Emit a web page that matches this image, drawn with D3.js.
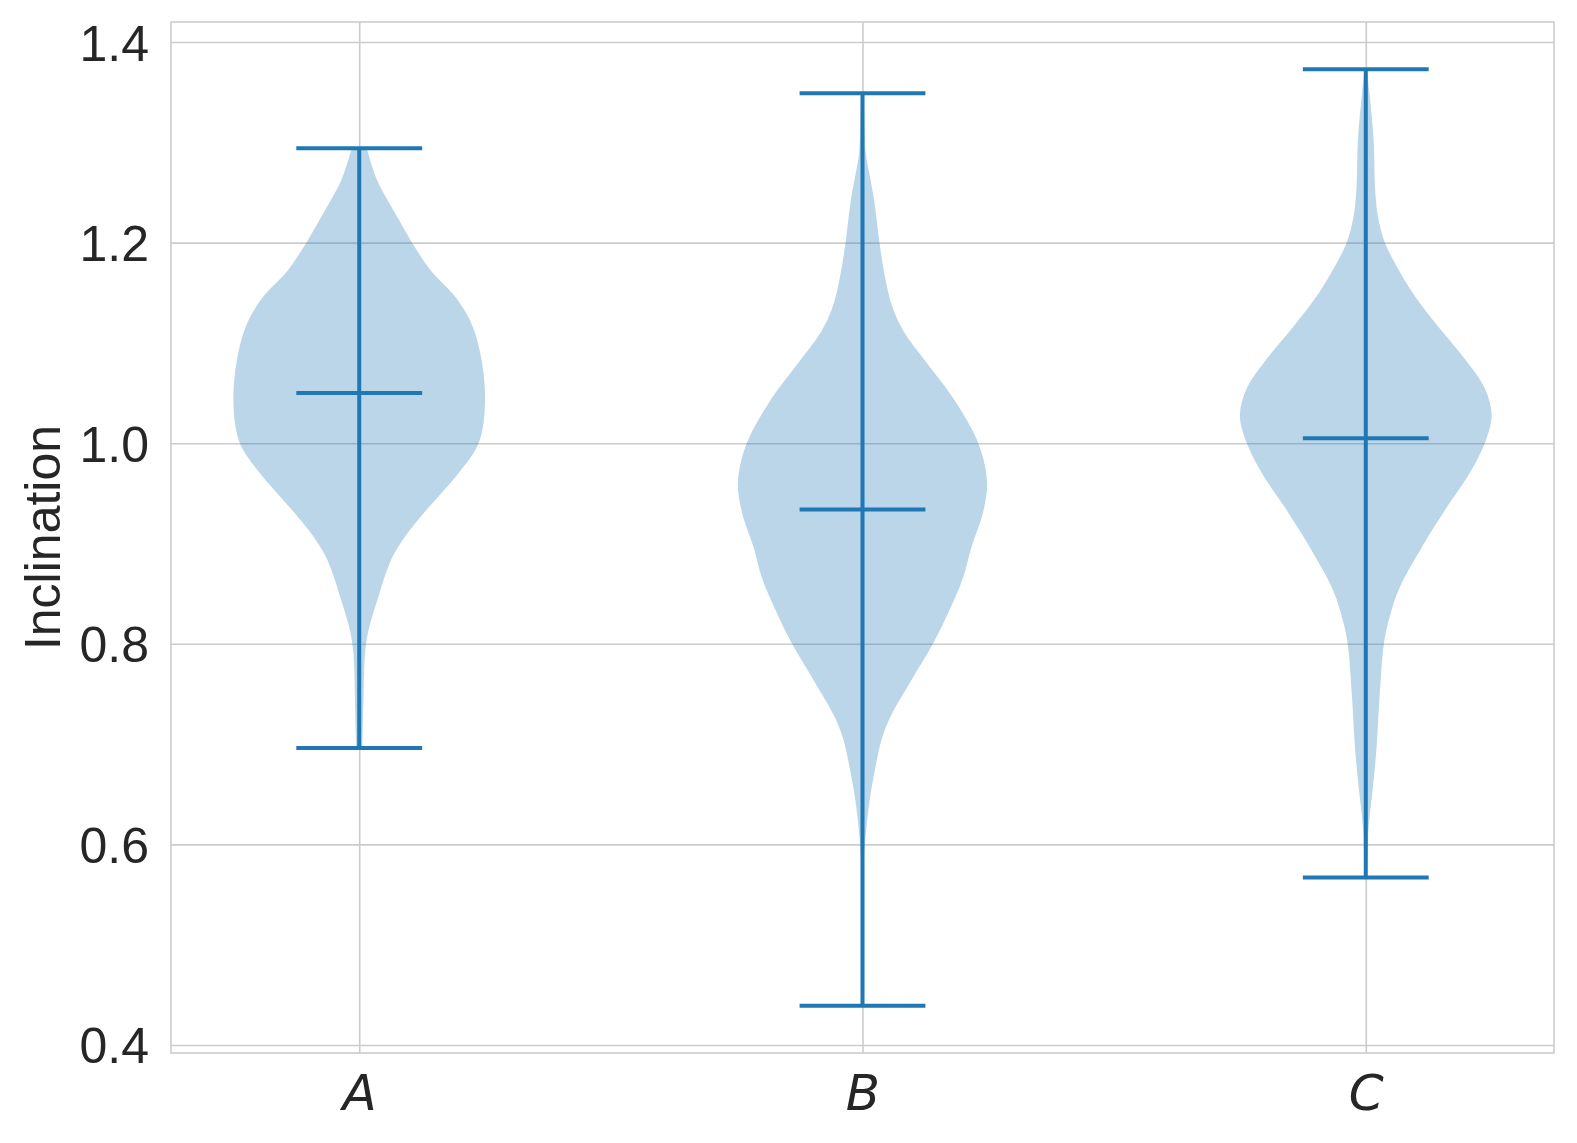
<!DOCTYPE html>
<html>
<head>
<meta charset="utf-8">
<script src="https://cdn.jsdelivr.net/npm/d3@7"></script>
<style>
  body { margin: 0; background: #fff; }
  text { font-family: "Liberation Sans", Arial, sans-serif; fill: #262626; }
</style>
</head>
<body>
<div id="chart"></div>
<script>
// chart data
var categories = ["A", "B", "C"]
var positions = [1, 2, 3]
var yTicks = [0.4, 0.6, 0.8, 1.0, 1.2, 1.4]
var mins = [0.696, 0.439, 0.567]
var maxs = [1.294, 1.349, 1.373]
var means = [1.050, 0.934, 1.005]

// kde profiles: [inclination, relative density]
var densityA = [
  [1.294, 0.06], [1.263, 0.14], [1.224, 0.31], [1.200, 0.42], [1.172, 0.57],
  [1.145, 0.77], [1.117, 0.90], [1.081, 0.975], [1.046, 1.0], [1.014, 0.98],
  [0.995, 0.93], [0.967, 0.77], [0.947, 0.63], [0.927, 0.49], [0.908, 0.37],
  [0.888, 0.27], [0.868, 0.205], [0.848, 0.155], [0.828, 0.105], [0.809, 0.066],
  [0.789, 0.045], [0.770, 0.038], [0.750, 0.035], [0.696, 0.024]
]
var densityB = [
  [1.349, 0.012], [1.290, 0.026], [1.272, 0.05], [1.242, 0.093], [1.200, 0.135],
  [1.165, 0.18], [1.135, 0.24], [1.111, 0.33], [1.081, 0.505], [1.045, 0.72],
  [1.000, 0.92], [0.962, 0.99], [0.932, 0.96], [0.896, 0.865], [0.866, 0.80],
  [0.836, 0.70], [0.800, 0.56], [0.764, 0.39], [0.728, 0.225], [0.705, 0.153],
  [0.675, 0.10], [0.645, 0.058], [0.609, 0.025], [0.585, 0.012], [0.439, 0.004]
]
var densityC = [
  [1.373, 0.008], [1.351, 0.028], [1.303, 0.062], [1.250, 0.076], [1.224, 0.10],
  [1.200, 0.152], [1.171, 0.27], [1.144, 0.405], [1.118, 0.565], [1.086, 0.775],
  [1.055, 0.945], [1.028, 1.0], [1.002, 0.952], [0.970, 0.825], [0.933, 0.627],
  [0.896, 0.444], [0.854, 0.262], [0.827, 0.19], [0.801, 0.145], [0.748, 0.11],
  [0.695, 0.085], [0.653, 0.053], [0.616, 0.022], [0.567, 0.008]
]
var densities = [densityA, densityB, densityC]

var width = 1577
    height = 1143
    margin = {top: 22, right: 23, bottom: 90, left: 171}

var svg = d3.select("#chart")
  .append("svg")
    .attr("width", width)
    .attr("height", height)

var x = d3.scaleLinear()
  .domain([0.626, 3.374])
  .range([margin.left, width - margin.right])

var y = d3.scaleLinear()
  .domain([0.392, 1.42])
  .range([height - margin.bottom, margin.top])

var blue = "#1f77b4"
    grid = "#cccccc"

// horizontal grid + y tick labels
var yAxis = svg.append("g")
  .attr("transform", "translate(" + margin.left + ",0)")
  .call(d3.axisLeft(y)
    .tickValues(yTicks)
    .tickFormat(d3.format(".1f"))
    .tickSize(-(width - margin.left - margin.right))
    .tickPadding(22))
yAxis.select(".domain").remove()
yAxis.selectAll("line").attr("stroke", grid).attr("stroke-width", 1.6)
yAxis.selectAll("text")
  .style("font-size", "50px")
  .attr("fill", "#262626")
  .attr("dy", "0.36em")

// vertical grid + category labels
var xAxis = svg.append("g")
  .attr("transform", "translate(0," + (height - margin.bottom) + ")")
  .call(d3.axisBottom(x)
    .tickValues(positions)
    .tickFormat(function(d, i) { return categories[i] })
    .tickSize(-(height - margin.top - margin.bottom))
    .tickPadding(0))
xAxis.select(".domain").remove()
xAxis.selectAll("line").attr("stroke", grid).attr("stroke-width", 1.6)
xAxis.selectAll("text")
  .style("font-family", "'DejaVu Sans', sans-serif")
  .style("font-style", "italic")
  .style("font-size", "50px")
  .attr("fill", "#262626")
  .attr("y", 57)
  .attr("dy", null)

// violins
var halfWidth = 0.25
positions.forEach(function(p, i) {
  var area = d3.area()
    .curve(d3.curveCatmullRom.alpha(0.5))
    .y(function(d) { return y(d[0]) })
    .x0(function(d) { return x(p - d[1] * halfWidth) })
    .x1(function(d) { return x(p + d[1] * halfWidth) })

  svg.append("path")
    .datum(densities[i])
    .attr("d", area)
    .attr("fill", blue)
    .attr("fill-opacity", 0.3)

  var g = svg.append("g")
    .attr("stroke", blue)
    .attr("stroke-width", 4)

  // vertical bar
  g.append("line")
    .attr("x1", x(p)).attr("x2", x(p))
    .attr("y1", y(mins[i])).attr("y2", y(maxs[i]))

  // caps and mean
  ;[mins[i], maxs[i], means[i]].forEach(function(v) {
    g.append("line")
      .attr("x1", x(p - 0.125)).attr("x2", x(p + 0.125))
      .attr("y1", y(v)).attr("y2", y(v))
  })
})

// spines
svg.append("rect")
  .attr("x", margin.left)
  .attr("y", margin.top)
  .attr("width", width - margin.left - margin.right)
  .attr("height", height - margin.top - margin.bottom)
  .attr("fill", "none")
  .attr("stroke", grid)
  .attr("stroke-width", 1.6)

// y label
svg.append("text")
  .attr("transform", "translate(60," + ((margin.top + height - margin.bottom) / 2) + ") rotate(-90)")
  .attr("text-anchor", "middle")
  .style("font-size", "50px")
  .text("Inclination")
</script>
</body>
</html>
